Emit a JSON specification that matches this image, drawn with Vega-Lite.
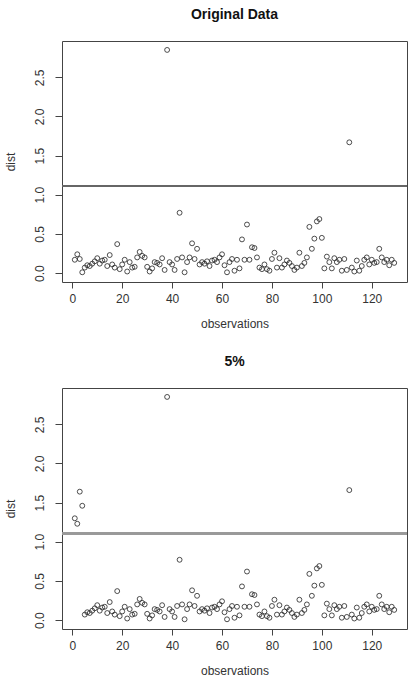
{
  "$schema": "https://vega.github.io/schema/vega-lite/v6.json",
  "padding": {"left": 3, "top": 7, "right": 5, "bottom": 5},
  "background": "white",
  "datasets": {
    "obs": [
      {"obs":1,"orig":0.17,"five":1.30},{"obs":2,"orig":0.24,"five":1.23},{"obs":3,"orig":0.18,"five":1.64},{"obs":4,"orig":0.01,"five":1.46},
      {"obs":5,"orig":0.07,"five":0.07},{"obs":6,"orig":0.10,"five":0.10},{"obs":7,"orig":0.09,"five":0.09},{"obs":8,"orig":0.12,"five":0.12},
      {"obs":9,"orig":0.15,"five":0.15},{"obs":10,"orig":0.19,"five":0.19},{"obs":11,"orig":0.12,"five":0.12},{"obs":12,"orig":0.16,"five":0.16},
      {"obs":13,"orig":0.17,"five":0.17},{"obs":14,"orig":0.09,"five":0.09},{"obs":15,"orig":0.23,"five":0.23},{"obs":16,"orig":0.11,"five":0.11},
      {"obs":17,"orig":0.07,"five":0.07},{"obs":18,"orig":0.37,"five":0.37},{"obs":19,"orig":0.05,"five":0.05},{"obs":20,"orig":0.11,"five":0.11},
      {"obs":21,"orig":0.17,"five":0.17},{"obs":22,"orig":0.02,"five":0.02},{"obs":23,"orig":0.14,"five":0.14},{"obs":24,"orig":0.07,"five":0.07},
      {"obs":25,"orig":0.08,"five":0.08},{"obs":26,"orig":0.20,"five":0.20},{"obs":27,"orig":0.27,"five":0.27},{"obs":28,"orig":0.22,"five":0.22},
      {"obs":29,"orig":0.20,"five":0.20},{"obs":30,"orig":0.08,"five":0.08},{"obs":31,"orig":0.02,"five":0.02},{"obs":32,"orig":0.06,"five":0.06},
      {"obs":33,"orig":0.14,"five":0.14},{"obs":34,"orig":0.13,"five":0.13},{"obs":35,"orig":0.11,"five":0.11},{"obs":36,"orig":0.19,"five":0.19},
      {"obs":37,"orig":0.04,"five":0.04},{"obs":38,"orig":2.85,"five":2.85},{"obs":39,"orig":0.14,"five":0.14},{"obs":40,"orig":0.11,"five":0.11},
      {"obs":41,"orig":0.04,"five":0.04},{"obs":42,"orig":0.18,"five":0.18},{"obs":43,"orig":0.77,"five":0.77},{"obs":44,"orig":0.20,"five":0.20},
      {"obs":45,"orig":0.01,"five":0.01},{"obs":46,"orig":0.14,"five":0.14},{"obs":47,"orig":0.20,"five":0.20},{"obs":48,"orig":0.38,"five":0.38},
      {"obs":49,"orig":0.18,"five":0.18},{"obs":50,"orig":0.31,"five":0.31},{"obs":51,"orig":0.11,"five":0.11},{"obs":52,"orig":0.14,"five":0.14},
      {"obs":53,"orig":0.12,"five":0.12},{"obs":54,"orig":0.15,"five":0.15},{"obs":55,"orig":0.09,"five":0.09},{"obs":56,"orig":0.16,"five":0.16},
      {"obs":57,"orig":0.17,"five":0.17},{"obs":58,"orig":0.14,"five":0.14},{"obs":59,"orig":0.20,"five":0.20},{"obs":60,"orig":0.24,"five":0.24},
      {"obs":61,"orig":0.10,"five":0.10},{"obs":62,"orig":0.01,"five":0.01},{"obs":63,"orig":0.14,"five":0.14},{"obs":64,"orig":0.18,"five":0.18},
      {"obs":65,"orig":0.03,"five":0.03},{"obs":66,"orig":0.17,"five":0.17},{"obs":67,"orig":0.06,"five":0.06},{"obs":68,"orig":0.43,"five":0.43},
      {"obs":69,"orig":0.17,"five":0.17},{"obs":70,"orig":0.62,"five":0.62},{"obs":71,"orig":0.17,"five":0.17},{"obs":72,"orig":0.33,"five":0.33},
      {"obs":73,"orig":0.32,"five":0.32},{"obs":74,"orig":0.20,"five":0.20},{"obs":75,"orig":0.07,"five":0.07},{"obs":76,"orig":0.05,"five":0.05},
      {"obs":77,"orig":0.11,"five":0.11},{"obs":78,"orig":0.05,"five":0.05},{"obs":79,"orig":0.03,"five":0.03},{"obs":80,"orig":0.18,"five":0.18},
      {"obs":81,"orig":0.26,"five":0.26},{"obs":82,"orig":0.07,"five":0.07},{"obs":83,"orig":0.19,"five":0.19},{"obs":84,"orig":0.07,"five":0.07},
      {"obs":85,"orig":0.11,"five":0.11},{"obs":86,"orig":0.16,"five":0.16},{"obs":87,"orig":0.13,"five":0.13},{"obs":88,"orig":0.09,"five":0.09},
      {"obs":89,"orig":0.04,"five":0.04},{"obs":90,"orig":0.07,"five":0.07},{"obs":91,"orig":0.26,"five":0.26},{"obs":92,"orig":0.09,"five":0.09},
      {"obs":93,"orig":0.13,"five":0.13},{"obs":94,"orig":0.20,"five":0.20},{"obs":95,"orig":0.59,"five":0.59},{"obs":96,"orig":0.31,"five":0.31},
      {"obs":97,"orig":0.44,"five":0.44},{"obs":98,"orig":0.66,"five":0.66},{"obs":99,"orig":0.69,"five":0.69},{"obs":100,"orig":0.45,"five":0.45},
      {"obs":101,"orig":0.06,"five":0.06},{"obs":102,"orig":0.21,"five":0.21},{"obs":103,"orig":0.14,"five":0.14},{"obs":104,"orig":0.06,"five":0.06},
      {"obs":105,"orig":0.19,"five":0.19},{"obs":106,"orig":0.14,"five":0.14},{"obs":107,"orig":0.17,"five":0.17},{"obs":108,"orig":0.03,"five":0.03},
      {"obs":109,"orig":0.18,"five":0.18},{"obs":110,"orig":0.04,"five":0.04},{"obs":111,"orig":1.67,"five":1.66},{"obs":112,"orig":0.07,"five":0.07},
      {"obs":113,"orig":0.02,"five":0.02},{"obs":114,"orig":0.16,"five":0.16},{"obs":115,"orig":0.03,"five":0.03},{"obs":116,"orig":0.09,"five":0.09},
      {"obs":117,"orig":0.17,"five":0.17},{"obs":118,"orig":0.20,"five":0.20},{"obs":119,"orig":0.11,"five":0.11},{"obs":120,"orig":0.17,"five":0.17},
      {"obs":121,"orig":0.13,"five":0.13},{"obs":122,"orig":0.14,"five":0.14},{"obs":123,"orig":0.31,"five":0.31},{"obs":124,"orig":0.20,"five":0.20},
      {"obs":125,"orig":0.14,"five":0.14},{"obs":126,"orig":0.17,"five":0.17},{"obs":127,"orig":0.10,"five":0.10},{"obs":128,"orig":0.17,"five":0.17},
      {"obs":129,"orig":0.13,"five":0.13}
    ]
  },
  "spacing": 24,
  "vconcat": [
    {
      "title": {"text": "Original Data", "offset": 19},
      "width": 345,
      "height": 241,
      "data": {"name": "obs"},
      "layer": [
        {
          "mark": {"type": "point", "shape": "circle", "size": 24, "filled": false, "stroke": "#222", "strokeWidth": 0.8, "opacity": 1},
          "encoding": {
            "x": {"field": "obs", "type": "quantitative", "title": "observations", "scale": {"domain": [-4.12, 134.12], "nice": false, "zero": false}, "axis": {"values": [0, 20, 40, 60, 80, 100, 120]}},
            "y": {"field": "orig", "type": "quantitative", "title": "dist", "scale": {"domain": [-0.114, 2.964], "nice": false, "zero": false}, "axis": {"values": [0, 0.5, 1, 1.5, 2, 2.5], "format": ".1f"}}
          }
        },
        {
          "mark": {"type": "rule", "color": "#666", "strokeWidth": 1},
          "encoding": {"y": {"datum": 1.11}}
        }
      ]
    },
    {
      "title": {"text": "5%", "offset": 19},
      "width": 345,
      "height": 241,
      "data": {"name": "obs"},
      "layer": [
        {
          "mark": {"type": "point", "shape": "circle", "size": 24, "filled": false, "stroke": "#222", "strokeWidth": 0.8, "opacity": 1},
          "encoding": {
            "x": {"field": "obs", "type": "quantitative", "title": "observations", "scale": {"domain": [-4.12, 134.12], "nice": false, "zero": false}, "axis": {"values": [0, 20, 40, 60, 80, 100, 120]}},
            "y": {"field": "five", "type": "quantitative", "title": "dist", "scale": {"domain": [-0.114, 2.964], "nice": false, "zero": false}, "axis": {"values": [0, 0.5, 1, 1.5, 2, 2.5], "format": ".1f"}}
          }
        },
        {
          "mark": {"type": "rule", "color": "#999", "strokeWidth": 2},
          "encoding": {"y": {"datum": 1.105}}
        }
      ]
    }
  ],
  "config": {
    "font": "Liberation Sans",
    "view": {"stroke": "#444", "strokeWidth": 1},
    "title": {"font": "Liberation Sans", "fontSize": 14, "fontWeight": "bold", "color": "#111", "anchor": "middle"},
    "axis": {
      "domain": false,
      "grid": false,
      "ticks": true,
      "tickColor": "#444",
      "tickSize": 6,
      "labelFont": "Liberation Sans",
      "labelFontSize": 12,
      "labelColor": "#333",
      "titleFont": "Liberation Sans",
      "titleFontSize": 12,
      "titleFontWeight": "normal",
      "titleColor": "#333"
    },
    "axisX": {"labelPadding": 5, "titlePadding": 14, "labelFlush": false, "labelOverlap": false},
    "axisY": {"tickSize": 7, "labelAngle": -90, "labelAlign": "center", "labelBaseline": "bottom", "labelPadding": 9, "titlePadding": 16, "labelOverlap": false}
  }
}
